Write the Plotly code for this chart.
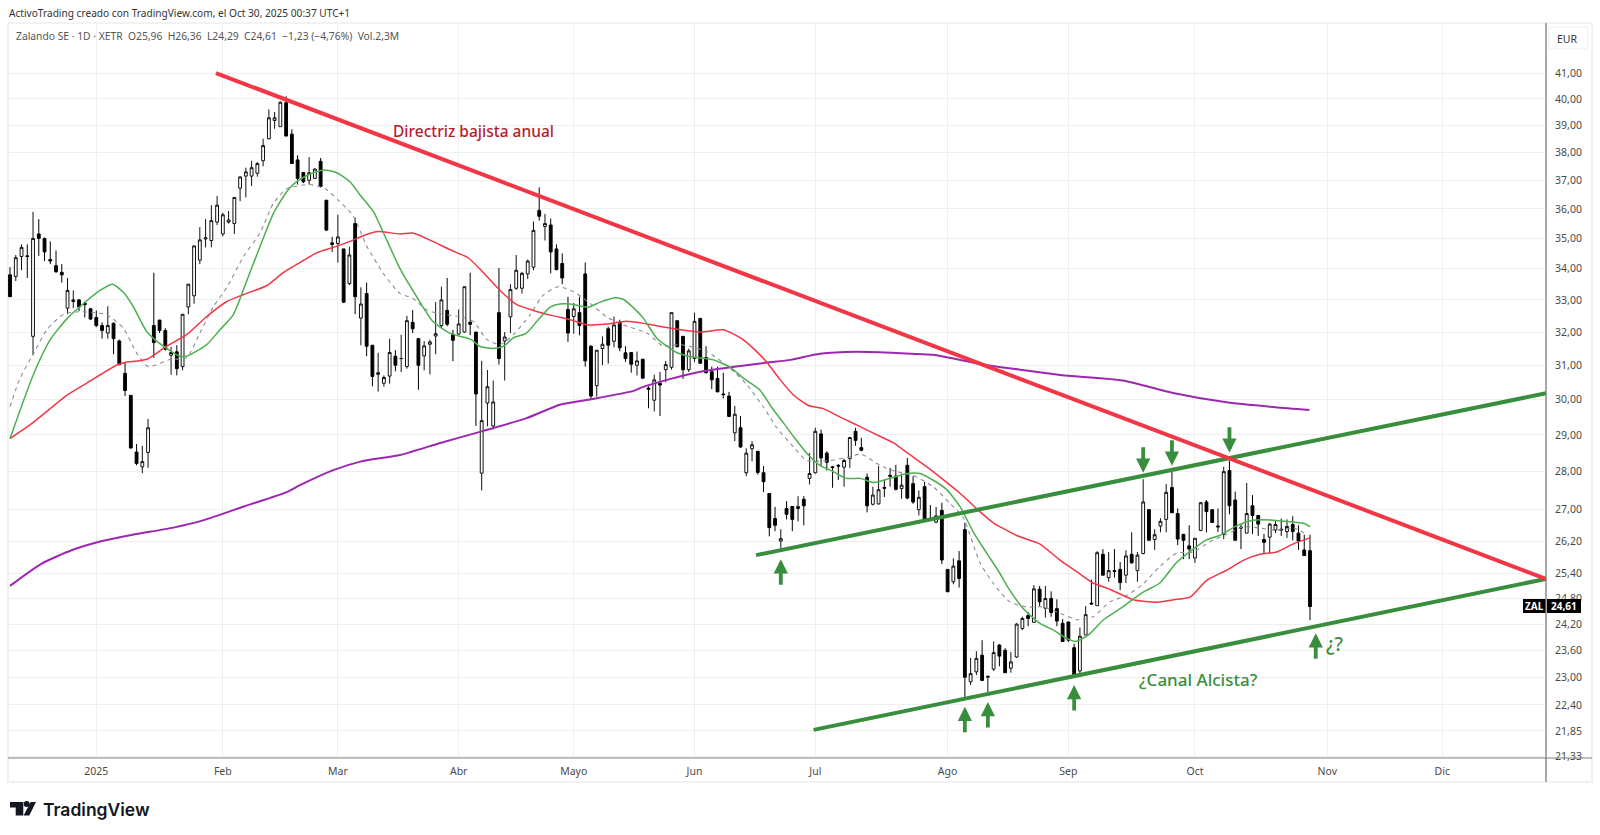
import math
import plotly.graph_objects as go

# ---------- candle data (price, EUR) ----------
open_ = [33.8,33.75,34.4,34.42,31.87,35.15,35,34.3,34.1,33.88,
32.74,32.95,33,32.9,32.72,32.45,32.2,31.97,32.27,31.73,
30.76,30.12,28.53,28.13,28.52,32.2,32.37,32.05,31.3,31.4,
30.96,32.78,33.13,34.28,34.98,34.93,35.55,35.15,35.55,35.5,
36.72,37.15,37.15,37.25,37.7,38.5,39.18,38.95,39.85,38.67,
37.73,37.28,37,37.07,37.68,36.3,34.85,34.83,34.65,33.52,
35.5,32.43,33.2,31.6,30.73,30.47,30.68,31.27,31.2,30.96,
32.3,31.8,31.28,31.63,31.88,32.2,32.67,31.93,31.94,32,
32.3,32,27.96,29.9,29.25,32.6,31.73,32.47,33.37,33.37,
33.83,34.05,35.95,35.4,35.45,34.65,34.17,32.7,32.48,32.6,
33.83,31.57,30.4,31.5,32.1,31.72,32.3,31.37,31.38,31,
31.18,30.33,29.98,30.47,30.87,30.94,32.35,31.87,30.87,31.2,
32.42,31.23,30.81,30.61,30.16,30.1,29.06,29.2,27.97,28.62,
28.55,27.97,27.42,26.77,26.2,27.03,27.08,27.03,27.27,27.82,
27.97,29.03,28.5,28.13,28.17,28.12,28.35,29.1,28.65,27.85,
27.14,27.15,27.58,27.9,27.88,27.55,28.17,27.68,27,27.6,
26.77,26.68,26.98,25.5,25.2,25.71,26.49,22.9,23.12,23.49,
23,23.18,23.72,23.6,23.2,23.45,24.1,24.4,24.24,25.02,
24.57,24.8,24.56,24.22,24.25,23.66,23.14,23.95,24.69,24.63,
25.87,25.3,25.47,25.5,25.36,25.87,25.47,25.89,27,26.24,
26.58,26.75,27.58,26.9,26.37,26.08,25.78,26.47,27.2,27,
26.58,26.37,28.03,27.25,26.55,26.4,27.1,26.85,26.24,26.3,
26.48,26.5,26.44,26.62,26.4,25.98,25.96]

high = [34.05,34.45,34.8,34.8,35.9,35.65,35.03,34.9,34.6,34.15,
33.7,33.3,33.03,32.95,32.75,32.67,32.3,32.8,32.3,31.77,
31.08,30.12,28.75,28.7,29.45,33.87,32.37,32.12,31.55,31.6,
32.55,33.5,34.75,35.38,35.65,36.13,36.45,35.87,35.93,36.4,
37.15,37.45,37.7,37.65,38.5,39.6,39.5,39.9,40.1,38.85,
37.9,37.3,37.83,37.43,37.8,36.32,35.05,35.8,34.65,34.72,
35.7,33.4,33.55,31.6,31.37,30.7,31.8,31.45,31.92,32.5,
32.68,31.82,31.72,31.77,32.93,33.42,33.7,32.07,32.7,33.42,
33.87,32,31.13,30.86,30.55,34.02,32,33.5,34.45,33.9,
34.3,35.57,36.75,35.83,35.67,34.8,34.5,33.1,32.9,33.1,
34.2,31.6,31.45,31.87,32.17,32.48,32.38,31.57,31.38,31.41,
31.18,30.38,30.72,30.8,31.13,32.6,32.35,31.87,31.5,32.6,
32.44,31.57,30.96,30.96,30.78,30.22,29.82,29.53,28.63,28.83,
28.55,28.15,27.42,27.07,26.5,27.22,27.08,27.35,27.35,28.5,
29.2,29.15,28.55,28.15,28.2,28.35,28.93,29.2,28.92,27.95,
27.6,28.15,27.8,28.1,28.18,27.95,28.37,27.88,27.5,27.73,
27.12,27.07,27.18,25.5,25.77,25.95,26.67,23.43,23.58,23.83,
23.03,23.8,23.74,23.65,23.56,24.22,24.37,24.48,25.12,25.1,
25.1,24.97,24.78,24.32,24.25,23.75,24.12,24.62,25.25,25.95,
26,25.93,26,25.68,25.97,26.42,25.93,27.8,27,26.5,
26.78,27.67,27.99,27.03,26.38,26.6,26.27,27.2,27.25,27,
27.03,28.13,28.3,27.47,26.62,27.7,27.38,26.85,26.38,26.66,
26.73,26.77,26.75,26.83,26.6,26.36,26.36]

low = [33.1,33.6,33.95,33.7,31.3,34.42,34.25,34.15,33.87,33.55,
32.55,32.74,32.65,32.45,32.37,32.15,31.8,31.8,31.33,31,
30.1,28.63,28.17,27.96,28.1,31.22,31.97,31.44,30.72,30.7,
30.85,32.55,32.88,34.15,34.7,34.7,35.45,35.07,35.5,35.15,
36.27,36.4,36.8,37.13,37.5,38.48,38.87,38.95,38.6,37.6,
36.85,36.9,36.85,37.05,36.75,35.25,34.55,34.2,32.9,33.47,
32.55,31.6,31.27,30.38,30.23,30.37,30.46,30.82,30.8,30.9,
31.97,30.28,30.85,30.73,31.33,32.13,32.18,31.12,31.92,31.98,
31.9,29.25,27.5,29.24,29.15,31.02,30.55,31.97,33.32,33.2,
33.67,33.95,35.6,34.93,33.85,33.95,33.5,31.7,31.95,31.9,
30.96,30,30.08,31,31.05,31.54,31.42,31.1,30.78,30.7,
30.6,29.75,29.66,29.53,30.5,30.87,31.55,30.6,30.8,31.1,
31.04,30.76,30.3,30.22,30.03,29.5,28.83,28.64,27.88,28.28,
27.92,27.46,26.32,26.45,25.95,26.75,26.45,26.7,26.6,27.66,
27.95,28.15,28.03,27.57,27.78,27.6,28.1,28.7,28.55,26.93,
27.11,27.13,27.33,27.6,27.5,27.28,27.27,27.15,26.85,26.7,
26.73,26.65,25.63,24.96,25.14,25.06,22.55,22.83,23.05,22.93,
22.65,23.14,23.24,23.1,23.1,23.43,24.06,24.15,24.24,24.62,
24.35,24.37,24.15,23.79,23.79,23.03,23.05,23.95,24.65,24.63,
25.36,25.2,25.3,25,25.17,25.64,25.2,25.87,26.22,25.98,
26.42,26.42,26.92,26.1,25.75,25.75,25.66,26.45,26.42,26.67,
26.43,26.25,26.88,26.22,26,26.4,26.38,26.33,25.9,25.9,
26.4,26.33,26.28,26.22,25.98,25.84,24.29]

close = [33.1,34.36,34.7,34.4,35,35,34.55,34.25,33.9,33.8,
33.3,33,32.78,32.85,32.4,32.2,32.05,32.2,31.8,31.02,
30.26,28.64,28.22,28.27,29.2,31.68,32.05,31.48,31.38,30.9,
32.55,33.5,34.75,34.95,35.02,35.6,36.13,35.8,35.62,36.4,
37.12,37.3,37.45,37.6,38.25,39.28,39.28,39.87,38.6,37.6,
37.07,36.95,37.27,37.4,36.78,35.28,34.8,35.05,32.93,34.45,
33.1,32.87,31.57,30.67,30.78,30.64,31.38,31,31.2,32.35,
32.1,31,31.58,31.7,31.95,33,32.24,31.75,32.25,33.42,
32.24,30.16,29.4,30.37,29.93,31.2,31.85,33.33,33.95,33.85,
34.25,35.27,35.75,35.5,34.55,33.97,33.7,31.97,32.72,32.2,
31.13,30.1,31.45,31.63,31.6,32.22,31.52,31.2,31.03,31.13,
30.62,30.3,30.57,30.42,31.02,32.6,31.55,30.87,31.43,32.33,
31.06,30.78,30.57,30.22,30.14,29.52,29.58,28.67,28.5,28.73,
27.98,27.73,26.54,26.6,26.26,26.88,26.75,27.08,27.1,27.95,
29.1,28.37,28.25,28.11,28.15,28.3,28.93,28.85,28.58,27.1,
27.38,27.52,27.56,27.88,27.53,27.64,27.3,27.2,27.32,26.72,
26.75,26.84,25.73,24.96,25.58,25.28,23,23.08,23.42,22.93,
23.02,23.55,23.47,23.1,23.34,24.2,24.33,24.33,25.03,24.72,
24.8,24.47,24.27,23.8,23.83,23.03,23.92,24.42,24.67,25.91,
25.36,25.47,25.45,25.18,25.83,25.66,25.85,27.2,26.22,26.36,
26.7,27.45,26.92,26.25,26.22,26,26.27,27.18,26.95,26.67,
26.56,28,27.1,26.22,26.53,26.9,26.85,26.63,26.17,26.63,
26.62,26.48,26.57,26.44,26.2,25.84,24.61]

assert len(open_) == len(high) == len(low) == len(close) == 227
bars = list(range(len(open_)))

# ---------- moving averages, read at bar numbers ----------
green_bar = [0,4,7,10,12.75,15.65,17.8,19.7,21.4,23.76,26.66,29.55,30.7,34.2,36.5,38.8,41.1,43.5,45.8,48.1,49.5,51.6,54.5,56.8,59.1,60.8,63.2,64.9,67.8,
70.7,73.5,76.4,80.2,81.6,83.9,85.8,87.5,89.8,91.6,93.9,95.6,97.4,100.5,102.6,105.2,106.6,108.4,110.1,112.4,114.2,115.9,118.2,
119.4,122.3,125.2,127.5,130.4,132.4,134.5,136.2,138.5,140.8,143.1,145.4,147.8,150.1,153,155.9,158.2,160.5,162.8,165.2,
167.5,169.8,172.1,173.8,176.1,179,181.4,183.7,185.2,187.5,190.1,193,197,199.9,202.8,205.7,208,210.3,213.3,216.1,219.6,223.1,225.1,226]
green_val = [28.9,30.7,31.77,32.43,32.88,33.3,33.5,33.24,32.8,32.02,31.57,31.27,31.27,31.62,32.07,32.53,33.58,34.75,35.85,36.6,36.9,37.17,37.37,37.27,36.95,36.5,35.9,35.2,34,
33.1,32.33,31.97,31.77,31.57,31.5,31.57,31.82,31.97,32.33,32.77,32.87,32.87,32.77,32.93,33.07,33.02,32.75,32.43,31.82,31.57,31.38,31.26,
31.23,31.16,30.94,30.62,30.27,29.78,29.33,28.96,28.5,28.17,28,27.82,27.82,27.71,27.82,27.95,27.95,27.77,27.53,27.07,
26.42,25.9,25.4,25,24.57,24.22,24.06,23.87,23.8,23.95,24.3,24.56,24.95,25.17,25.67,26,26.23,26.34,26.59,26.73,26.73,26.68,26.64,26.56]

red_bar = [0,4.05,9.85,13.3,18.5,20,23.8,27.2,30.7,34.2,37.7,40.6,44.6,47.5,50.4,53.3,56.2,59.1,62,64,67.8,70,73.5,76.4,79.7,82.3,85.2,88.1,91,94.5,97.4,100.3,103.7,107.2,110.7,114.2,120,
124,127,129.5,131.6,133.9,136.2,138.8,141.4,144.3,147.2,150.1,153.6,156.5,159.4,162.3,165.2,168.6,170.9,175,179,182.6,185.5,188.3,191.2,195.3,199.4,202.3,205.2,208,211.5,214.4,217.3,220.2,223.1,226]
red_val = [28.9,29.35,30.12,30.47,31,31.08,31.18,31.57,31.92,32.48,32.95,33.17,33.45,33.87,34.2,34.52,34.7,34.9,35.13,35.23,35.15,35.18,34.9,34.63,34.35,33.87,33.3,32.85,32.67,32.5,32.38,32.22,32.25,32.33,32.25,32.14,32,
32.07,31.82,31.46,31.08,30.57,30.13,29.83,29.74,29.5,29.28,29.05,28.78,28.45,28.13,27.78,27.42,26.95,26.67,26.34,26.13,25.72,25.44,25.17,25.02,24.77,24.71,24.77,24.84,25.23,25.48,25.72,25.87,25.93,26.13,26.28]

purple_bar = [0,5.36,10.7,16,21.3,28.4,33.7,40.8,48,50.4,56.2,60.9,67.8,74.8,82,89.8,95.6,100.8,108.4,109.5,114.2,120,125.2,131.6,135.7,140.8,147.2,154.8,160.5,168.6,175.6,184,193.4,202.2,211.2,220,225.9]
purple_val = [25.1,25.63,25.97,26.2,26.36,26.54,26.73,27.09,27.45,27.64,28.04,28.27,28.45,28.78,29.1,29.47,29.85,30,30.25,30.33,30.57,30.81,30.94,31.08,31.16,31.34,31.4,31.36,31.31,31.04,30.87,30.69,30.55,30.19,29.93,29.78,29.7]

gray_bar = [0,1.7,4,6.4,9.3,12.2,16.8,19.7,22,24,27.8,30.7,33,35.4,37.7,40.6,43.5,45.8,48.1,52.1,54.8,57.1,59.7,62,64.9,67.8,70,72.5,75.3,78.2,80.6,82.9,85.2,87.5,90.4,92.7,95.3,97.9,100.8,103.7,106.6,110.7,113.6,116.5,121.1,125.2,128.1,131,133.3,136.2,138.5,142.6,145.4,148,151.2,154.1,157,160.5,163.4,165.7,168.6,170.9,173.8,176.7,179.6,182.6,185.5,188.3,191.2,194.1,197,199.9,202.8,205.7,208.6,211.5,214.4,217.3,220.2,223.1,225.4]
gray_val = [29.8,30.6,31.32,32.07,32.55,32.63,32.53,32.12,31.37,30.96,31.17,31.22,31.97,32.8,33.4,34.4,35.2,36.2,36.7,36.85,36.7,36.3,35.75,34.75,33.85,33.2,33.05,32.68,32.55,32.47,32.32,31.77,31.62,31.92,32.53,33.15,33.42,33.27,32.9,32.47,32.22,31.97,31.57,31.62,31.41,30.91,30.43,29.78,29.2,28.67,28.3,28.3,28.38,28.47,28.17,28,27.9,27.6,27.16,26.8,25.67,25.17,24.72,24.6,24.6,24.45,24.3,24.37,24.72,24.87,25.15,25.57,25.9,25.93,26.18,26.37,26.56,26.53,26.47,26.53,26.37]

# ---------- trend lines: (bar, price) end points ----------
bear_bar, bear_val = [35.8, 267.0], [41.0, 25.27]
upper_bar, upper_val = [129.7, 267.0], [25.85, 30.18]
lower_bar, lower_val = [139.7, 267.0], [21.87, 25.27]

# ---------- axes ----------
price_ticks = [41,40,39,38,37,36,35,34,33,32,31,30,29,28,27,26.2,25.4,24.8,24.2,23.6,23,22.4,21.85,21.33]
price_labels = [f"{v:.2f}".replace(".", ",") for v in price_ticks]
month_bars = [15,37,57,78,98,119,140,163,184,206,229,249]
month_labels = ["2025","Feb","Mar","Abr","Mayo","Jun","Jul","Ago","Sep","Oct","Nov","Dic"]

# ---------- arrows: bar and price of the tip ----------
up_bar = [134,166,170,185,227]
up_tip = [25.75,22.36,22.46,22.83,23.99]
down_bar = [197,202,212]
down_tip = [27.97,28.16,28.51]

FONT = "Noto Sans"
TXT = "#4a4a4a"
W, H = 1600, 835
L, R, T, B = 8, 1546, 23, 758
def px(x): return x / W
def py(y): return 1 - y / H

fig = go.Figure()
fig.add_trace(go.Candlestick(
    x=bars, open=open_, high=high, low=low, close=close, whiskerwidth=0,
    increasing=dict(line=dict(color="#111111", width=1), fillcolor="#ffffff"),
    decreasing=dict(line=dict(color="#000000", width=1), fillcolor="#000000"),
    showlegend=False, hoverinfo="skip"))

def line(xs, ys, color, width, dash="solid", shape="spline"):
    fig.add_trace(go.Scatter(x=xs, y=ys, mode="lines", showlegend=False, hoverinfo="skip",
                             line=dict(color=color, width=width, dash=dash, shape=shape,
                                       **({"smoothing": 0.6} if shape == "spline" else {}))))

line(gray_bar, gray_val, "#8a8d96", 1.1, dash="4px,4px")
line(purple_bar, purple_val, "#9c27b0", 2)
line(red_bar, red_val, "#f23645", 1.5)
line(green_bar, green_val, "#4caf50", 1.5)
line(upper_bar, upper_val, "#388e3c", 4, shape="linear")
line(lower_bar, lower_val, "#388e3c", 4, shape="linear")
line(bear_bar, bear_val, "#f23645", 4, shape="linear")

ann = []
def label(x, y, text, size=11, color=TXT, anchor="left", family=FONT, weight=None):
    f = dict(family=family, size=size, color=color)
    if weight: f["weight"] = weight
    ann.append(dict(xref="paper", yref="paper", x=px(x), y=py(y), text=text, showarrow=False,
                    xanchor=anchor, yanchor="middle", font=f, borderpad=0))
label(8, 13, "ActivoTrading creado con TradingView.com, el Oct 30, 2025 00:37 UTC+1", size=10.15, color="#333333")
label(15, 36, "Zalando SE · 1D · XETR  O25,96  H26,36  L24,29  C24,61  −1,23 (−4,76%)  Vol.2,3M", size=10.3, color="#555555")
label(1567, 39, "EUR", size=10.5, color="#333333", anchor="center")
label(42, 809, "TradingView", size=17.5, color="#131722", family="Inter", weight=600)
label(1534, 606, "<b>ZAL</b>", size=10, color="#ffffff", anchor="center")
label(1564, 606, "<b>24,61</b>", size=10, color="#ffffff", anchor="center")

for b, t in zip(up_bar, up_tip):
    ann.append(dict(x=b, y=math.log10(t), xref="x", yref="y", ax=0, ay=27, text="", showarrow=True,
                    arrowhead=2, arrowsize=0.75, arrowwidth=3.8, arrowcolor="#388e3c", standoff=0))
for b, t in zip(down_bar, down_tip):
    ann.append(dict(x=b, y=math.log10(t), xref="x", yref="y", ax=0, ay=-27, text="", showarrow=True,
                    arrowhead=2, arrowsize=0.75, arrowwidth=3.8, arrowcolor="#388e3c", standoff=0))
for b, p, s, c, size in [(80.5, 38.8, "Directriz bajista anual", "#b71c2e", 15.5),
                         (206.7, 22.94, "¿Canal Alcista?", "#388e3c", 17),
                         (230.2, 23.74, "¿?", "#388e3c", 19)]:
    ann.append(dict(x=b, y=math.log10(p), xref="x", yref="y", text=s, showarrow=False,
                    font=dict(family=FONT, size=size, color=c, weight=500)))

def rect(x0, y0, x1, y1, **kw):
    return dict(type="rect", xref="paper", yref="paper", x0=px(x0), x1=px(x1), y0=py(y0), y1=py(y1), **kw)
def seg(x0, y0, x1, y1, color, width=1):
    return dict(type="line", xref="paper", yref="paper", x0=px(x0), x1=px(x1), y0=py(y0), y1=py(y1),
                line=dict(color=color, width=width))
def poly(pts, color):
    path = "M " + " L ".join(f"{px(a):.5f},{py(b):.5f}" for a, b in pts) + " Z"
    return dict(type="path", xref="paper", yref="paper", path=path, fillcolor=color, line=dict(width=0))

shapes = [
    rect(L, T, 1592, 782, line=dict(color="#eeeeee", width=1.5), layer="below"),
    seg(L, B, 1592, B, "#808080", 1.2),
    seg(R, T, R, 782, "#707070", 1.2),
    rect(1549, 27, 1588, 49, line=dict(color="#eeeeee", width=1), fillcolor="rgba(0,0,0,0)"),
    rect(1523, 599, 1545.5, 613, line=dict(width=0), fillcolor="#000000"),
    rect(1547, 599, 1581, 613, line=dict(width=0), fillcolor="#000000"),
    # TradingView logo
    poly([(10,802),(23.3,802),(23.3,815.5),(15.7,815.5),(15.7,807.5),(10,807.5)], "#131722"),
    poly([(30.7,802),(36,802),(29.3,815.5),(23.6,815.5)], "#131722"),
    dict(type="circle", xref="paper", yref="paper", x0=px(23.7), x1=px(29.7), y0=py(801), y1=py(807),
         fillcolor="#131722", line=dict(width=0)),
]

fig.update_layout(
    template="none",
    width=W, height=H, margin=dict(l=0, r=0, t=0, b=0, pad=0, autoexpand=False),
    paper_bgcolor="#ffffff", plot_bgcolor="#ffffff",
    showlegend=False, annotations=ann, shapes=shapes, hovermode=False,
    xaxis=dict(domain=[px(L), px(R)], range=[-0.35, 267.03], rangeslider=dict(visible=False), automargin=False,
               tickmode="array", tickvals=month_bars, ticktext=month_labels,
               showgrid=True, gridcolor="#efefef", gridwidth=1.3, zeroline=False, showline=False,
               ticks="outside", ticklen=3, tickcolor="rgba(0,0,0,0)",
               tickfont=dict(family=FONT, size=10.5, color=TXT)),
    yaxis=dict(domain=[py(B), py(T)], type="log", side="right", automargin=False,
               range=[math.log10(21.29), math.log10(43.01)],
               tickmode="array", tickvals=price_ticks, ticktext=price_labels,
               showgrid=True, gridcolor="#efefef", gridwidth=1.3, zeroline=False, showline=False,
               ticks="outside", ticklen=6, tickcolor="rgba(0,0,0,0)",
               tickfont=dict(family=FONT, size=10.5, color=TXT)),
)

fig.write_html("out.html", config={"displayModeBar": False},
               post_script="document.body.style.margin='0';document.body.style.overflow='hidden';")
